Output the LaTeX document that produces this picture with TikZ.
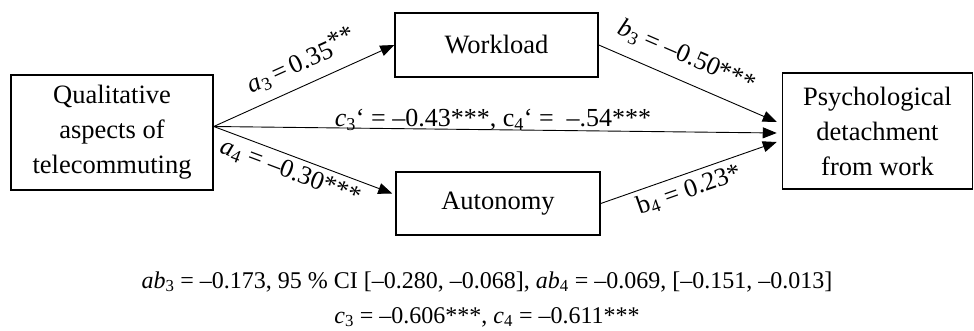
\documentclass[tikz,border=0pt]{standalone}
\usepackage{fontspec}
\setmainfont{Liberation Serif}
\usetikzlibrary{arrows.meta,calc}

\newcommand{\ivar}[2]{\textit{#1}\textsubscript{#2}}
\newcommand{\uvar}[2]{#1\textsubscript{#2}}

\begin{document}
\begin{tikzpicture}[x=1pt, y=-1pt,
  box/.style={draw, line width=1.5pt, align=center, inner sep=0pt,
    font=\fontsize{26.5}{35}\selectfont},
  link/.style={line width=0.9pt, -{Triangle[length=14pt, width=11pt]}},
  lab/.style={font=\fontsize{26}{30}\selectfont, inner sep=1pt},
  note/.style={font=\fontsize{24}{28}\selectfont, inner sep=0pt, anchor=base}]
\useasboundingbox (0,0) rectangle (974,331);

% ---------- boxes ----------
\node[box, minimum width=202pt, minimum height=115pt] (qual) at (112,132.5)
  {Qualitative\\aspects of\\telecommuting};
\node[box, minimum width=203pt, minimum height=64pt] (work) at (496.5,45) {Workload};
\node[box, minimum width=204pt, minimum height=63pt] (auto) at (498,203.5) {Autonomy};
\node[box, minimum width=190pt, minimum height=116pt] (psych) at (877.5,131)
  {Psychological\\detachment\\from work};

% ---------- end points ----------
\coordinate (src) at ($(qual.east)+(0,-6)$);
\coordinate (autoin) at ($(auto.west)+(-3,-10)$);
\coordinate (inW) at ($(psych.west)+(-5,-9)$);
\coordinate (inC) at ($(psych.west)+(-5,2)$);
\coordinate (inA) at ($(psych.west)+(-5,11)$);

% ---------- paths ----------
\draw[link] (src) -- (work.west)
  node[lab, sloped, above=9pt, pos=0.54] {\ivar{a}{3}\,=\,0.35\raisebox{.22em}{**}};
\draw[link] (src) -- (autoin)
  node[lab, sloped, below=4pt, pos=0.46] {\ivar{a}{4} = –0.30***};
\draw[link] (src) -- (inC)
  node[lab, above=-2pt, pos=0.496] {\ivar{c}{3}‘ = –0.43***, \uvar{c}{4}‘ = \ –.54***};
\draw[link] (work.east) -- (inW)
  node[lab, sloped, above=12pt, pos=0.44] {\ivar{b}{3} = –0.50***};
\draw[link] (auto.east) -- (inA)
  node[lab, sloped, below=4pt, pos=0.47] {\uvar{b}{4} = 0.23*};

% ---------- indirect and total effects ----------
\node[note] (eff) at (487,288)
  {\ivar{ab}{3} = –0.173, 95 \% CI [–0.280, –0.068], \ivar{ab}{4} = –0.069, [–0.151, –0.013]};
\node[note] (tot) at (487,323)
  {\ivar{c}{3} = –0.606***, \ivar{c}{4} = –0.611***};
\end{tikzpicture}
\end{document}
